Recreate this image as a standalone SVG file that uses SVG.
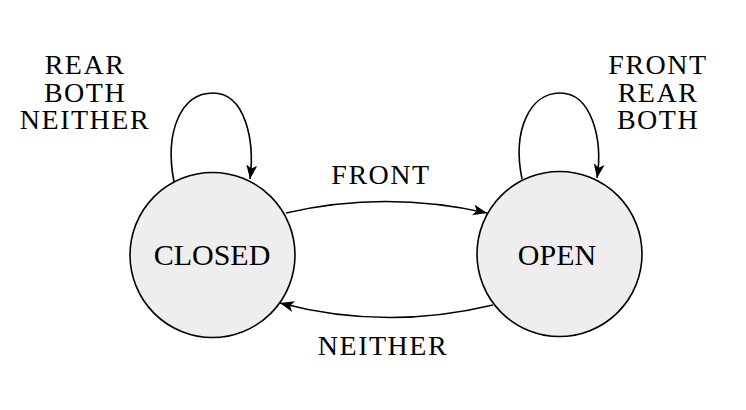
<svg xmlns="http://www.w3.org/2000/svg" width="746" height="410" viewBox="0 0 746 410">
  <style>
    .state { fill: #eeeeee; stroke: #000; stroke-width: 1.6; }
    .edge { fill: none; stroke: #000; stroke-width: 1.6; }
    text { font-family: "Liberation Serif", "Times New Roman", serif; font-size: 30px; fill: #000; text-anchor: middle; }
    .lbl { font-size: 28px; letter-spacing: 1.5px; }
  </style>
  <defs>
    <marker id="arrow" markerUnits="userSpaceOnUse" markerWidth="16" markerHeight="12" refX="14" refY="5.5" orient="auto">
      <path d="M0,0 L14,5.5 L0,11 L3.5,5.5 z" fill="#000"/>
    </marker>
  </defs>

  <g id="connectors">
    <!-- CLOSED self-loop -->
    <path class="edge" d="M174,182 C164,130 182,93 213,93 C245,93 255,140 250,179" marker-end="url(#arrow)"/>
    <!-- OPEN self-loop -->
    <path class="edge" d="M522,179 C512,130 530,93 560,93 C592,93 603,140 597,178" marker-end="url(#arrow)"/>
    <!-- CLOSED -> OPEN -->
    <path class="edge" d="M286,213 Q385,190 487,213" marker-end="url(#arrow)"/>
    <!-- OPEN -> CLOSED -->
    <path class="edge" d="M493,305 Q385,331 280,303" marker-end="url(#arrow)"/>
    <text class="lbl" x="85" y="74">REAR</text>
    <text class="lbl" x="85" y="102">BOTH</text>
    <text class="lbl" x="85" y="129">NEITHER</text>
    <text class="lbl" x="658" y="74">FRONT</text>
    <text class="lbl" x="658" y="102">REAR</text>
    <text class="lbl" x="658" y="129">BOTH</text>
    <text class="lbl" x="381" y="184">FRONT</text>
    <text class="lbl" x="383" y="355">NEITHER</text>
  </g>

  <g id="closed">
    <circle class="state" cx="212.5" cy="255" r="82.5"/>
    <text x="212" y="265">CLOSED</text>
  </g>

  <g id="open">
    <circle class="state" cx="559.5" cy="254" r="82.5"/>
    <text x="557" y="265">OPEN</text>
  </g>
</svg>
